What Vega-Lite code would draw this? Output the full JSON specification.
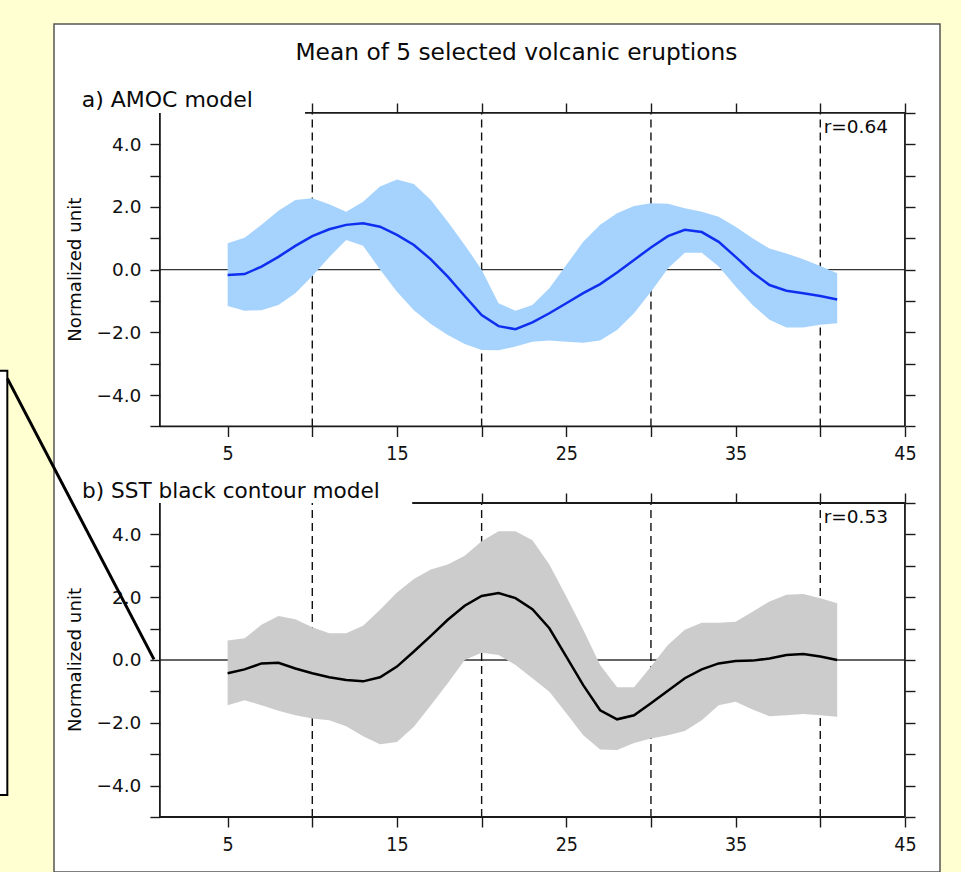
{
  "$schema": "https://vega.github.io/schema/vega-lite/v6.json",
  "width": 886,
  "height": 848,
  "autosize": "none",
  "padding": {"left": 54, "top": 24, "right": 21, "bottom": 0},
  "background": "#FFFFD2",
  "config": {
    "view": {"fill": "white", "stroke": "#555555", "strokeWidth": 1.5},
    "axis": {"domain": false, "grid": false, "tickColor": "#1a1a1a", "tickWidth": 1.4, "tickSize": 10, "labelColor": "#111111", "labelFont": "DejaVu Sans", "labelFlush": false, "labelOverlap": false, "labelBound": false},
    "text": {"font": "DejaVu Sans", "color": "#0a0a0a"}
  },
  "datasets": {
    "amoc": [
      {"t": 5, "mean": -0.17, "lo": -1.16, "hi": 0.84},
      {"t": 6, "mean": -0.14, "lo": -1.31, "hi": 1.02},
      {"t": 7, "mean": 0.10, "lo": -1.29, "hi": 1.43},
      {"t": 8, "mean": 0.41, "lo": -1.13, "hi": 1.88},
      {"t": 9, "mean": 0.76, "lo": -0.75, "hi": 2.22},
      {"t": 10, "mean": 1.07, "lo": -0.20, "hi": 2.28},
      {"t": 11, "mean": 1.29, "lo": 0.40, "hi": 2.09},
      {"t": 12, "mean": 1.43, "lo": 0.95, "hi": 1.85},
      {"t": 13, "mean": 1.48, "lo": 0.76, "hi": 2.17},
      {"t": 14, "mean": 1.37, "lo": 0.01, "hi": 2.65},
      {"t": 15, "mean": 1.11, "lo": -0.70, "hi": 2.88},
      {"t": 16, "mean": 0.79, "lo": -1.29, "hi": 2.73},
      {"t": 17, "mean": 0.33, "lo": -1.73, "hi": 2.22},
      {"t": 18, "mean": -0.22, "lo": -2.08, "hi": 1.53},
      {"t": 19, "mean": -0.84, "lo": -2.37, "hi": 0.79},
      {"t": 20, "mean": -1.45, "lo": -2.56, "hi": 0.00},
      {"t": 21, "mean": -1.80, "lo": -2.57, "hi": -1.07},
      {"t": 22, "mean": -1.90, "lo": -2.45, "hi": -1.31},
      {"t": 23, "mean": -1.68, "lo": -2.30, "hi": -1.13},
      {"t": 24, "mean": -1.39, "lo": -2.26, "hi": -0.59},
      {"t": 25, "mean": -1.07, "lo": -2.30, "hi": 0.15},
      {"t": 26, "mean": -0.75, "lo": -2.33, "hi": 0.89},
      {"t": 27, "mean": -0.46, "lo": -2.26, "hi": 1.43},
      {"t": 28, "mean": -0.09, "lo": -1.92, "hi": 1.80},
      {"t": 29, "mean": 0.31, "lo": -1.39, "hi": 2.03},
      {"t": 30, "mean": 0.71, "lo": -0.70, "hi": 2.12},
      {"t": 31, "mean": 1.07, "lo": 0.04, "hi": 2.10},
      {"t": 32, "mean": 1.27, "lo": 0.54, "hi": 1.96},
      {"t": 33, "mean": 1.20, "lo": 0.54, "hi": 1.85},
      {"t": 34, "mean": 0.89, "lo": 0.10, "hi": 1.69},
      {"t": 35, "mean": 0.41, "lo": -0.54, "hi": 1.37},
      {"t": 36, "mean": -0.09, "lo": -1.13, "hi": 1.00},
      {"t": 37, "mean": -0.49, "lo": -1.60, "hi": 0.68},
      {"t": 38, "mean": -0.67, "lo": -1.84, "hi": 0.52},
      {"t": 39, "mean": -0.75, "lo": -1.84, "hi": 0.33},
      {"t": 40, "mean": -0.84, "lo": -1.76, "hi": 0.12},
      {"t": 41, "mean": -0.95, "lo": -1.71, "hi": -0.11}
    ],
    "sst": [
      {"t": 5, "mean": -0.42, "lo": -1.44, "hi": 0.62},
      {"t": 6, "mean": -0.30, "lo": -1.28, "hi": 0.69},
      {"t": 7, "mean": -0.11, "lo": -1.44, "hi": 1.12},
      {"t": 8, "mean": -0.09, "lo": -1.62, "hi": 1.40},
      {"t": 9, "mean": -0.27, "lo": -1.76, "hi": 1.30},
      {"t": 10, "mean": -0.42, "lo": -1.86, "hi": 1.04},
      {"t": 11, "mean": -0.55, "lo": -1.92, "hi": 0.85},
      {"t": 12, "mean": -0.64, "lo": -2.11, "hi": 0.85},
      {"t": 13, "mean": -0.68, "lo": -2.43, "hi": 1.09},
      {"t": 14, "mean": -0.55, "lo": -2.68, "hi": 1.60},
      {"t": 15, "mean": -0.21, "lo": -2.61, "hi": 2.15},
      {"t": 16, "mean": 0.27, "lo": -2.13, "hi": 2.58},
      {"t": 17, "mean": 0.77, "lo": -1.44, "hi": 2.88},
      {"t": 18, "mean": 1.28, "lo": -0.74, "hi": 3.04},
      {"t": 19, "mean": 1.73, "lo": 0.00, "hi": 3.32},
      {"t": 20, "mean": 2.04, "lo": 0.23, "hi": 3.78},
      {"t": 21, "mean": 2.13, "lo": 0.16, "hi": 4.10},
      {"t": 22, "mean": 1.97, "lo": -0.16, "hi": 4.10},
      {"t": 23, "mean": 1.62, "lo": -0.58, "hi": 3.81},
      {"t": 24, "mean": 1.01, "lo": -1.01, "hi": 3.04},
      {"t": 25, "mean": 0.11, "lo": -1.70, "hi": 2.02},
      {"t": 26, "mean": -0.80, "lo": -2.40, "hi": 0.96},
      {"t": 27, "mean": -1.60, "lo": -2.85, "hi": -0.16},
      {"t": 28, "mean": -1.89, "lo": -2.87, "hi": -0.87},
      {"t": 29, "mean": -1.76, "lo": -2.64, "hi": -0.87},
      {"t": 30, "mean": -1.38, "lo": -2.50, "hi": -0.21},
      {"t": 31, "mean": -0.98, "lo": -2.40, "hi": 0.48},
      {"t": 32, "mean": -0.58, "lo": -2.26, "hi": 0.96},
      {"t": 33, "mean": -0.30, "lo": -1.92, "hi": 1.19},
      {"t": 34, "mean": -0.11, "lo": -1.44, "hi": 1.19},
      {"t": 35, "mean": -0.03, "lo": -1.33, "hi": 1.22},
      {"t": 36, "mean": -0.02, "lo": -1.58, "hi": 1.54},
      {"t": 37, "mean": 0.05, "lo": -1.79, "hi": 1.86},
      {"t": 38, "mean": 0.16, "lo": -1.76, "hi": 2.08},
      {"t": 39, "mean": 0.19, "lo": -1.72, "hi": 2.10},
      {"t": 40, "mean": 0.11, "lo": -1.76, "hi": 1.97},
      {"t": 41, "mean": 0.00, "lo": -1.81, "hi": 1.81}
    ],
    "vlines": [{"t": 10}, {"t": 20}, {"t": 30}, {"t": 40}],
    "one": [{}]
  },
  "layer": [
    {
      "layer": [
        {"data": {"name": "one"}, "mark": {"type": "rule", "color": "#333333", "strokeWidth": 1.3},
         "encoding": {"x": {"datum": 1, "type": "quantitative", "scale": {"domain": [-5.254, 47.07], "nice": false, "zero": false}, "axis": null}, "x2": {"datum": 45},
                      "y": {"datum": 0, "type": "quantitative", "scale": {"domain": [-19.212, 7.837], "nice": false, "zero": false}, "axis": null}}},
        {"data": {"name": "vlines"}, "mark": {"type": "rule", "color": "#111111", "strokeWidth": 1.4, "strokeDash": [8, 5]},
         "encoding": {"x": {"field": "t", "type": "quantitative", "scale": {"domain": [-5.254, 47.07], "nice": false, "zero": false}, "axis": null},
                      "y": {"datum": -5, "type": "quantitative", "scale": {"domain": [-19.212, 7.837], "nice": false, "zero": false}, "axis": null}, "y2": {"datum": 5}}},
        {"data": {"name": "amoc"}, "mark": {"type": "area", "color": "#A6D3FD", "opacity": 1, "fillOpacity": 1},
         "encoding": {"x": {"field": "t", "type": "quantitative", "scale": {"domain": [-5.254, 47.07], "nice": false, "zero": false},
                            "axis": {"orient": "bottom", "offset": -445.5, "values": [5, 10, 15, 20, 25, 30, 35, 40, 45], "labelExpr": "datum.value % 10 === 5 ? datum.label : ''", "labelFont": "'Liberation Sans Narrow', 'DejaVu Sans Condensed', sans-serif", "labelFontSize": 19.5, "labelPadding": 8, "title": null}},
                      "y": {"field": "lo", "type": "quantitative", "scale": {"domain": [-19.212, 7.837], "nice": false, "zero": false},
                            "axis": {"orient": "left", "offset": -105.9, "values": [-5, -4, -3, -2, -1, 0, 1, 2, 3, 4], "labelExpr": "datum.value % 2 === 0 ? format(datum.value, '.1f') : ''", "labelFontSize": 18.5, "labelPadding": 9, "title": null}},
                      "y2": {"field": "hi"}}},
        {"data": {"name": "amoc"}, "mark": {"type": "line", "color": "#0F2FF0", "strokeWidth": 2.5},
         "encoding": {"x": {"field": "t", "type": "quantitative", "scale": {"domain": [-5.254, 47.07], "nice": false, "zero": false},
                            "axis": {"orient": "top", "offset": -89, "values": [10, 15, 20, 25, 30, 35, 40, 45], "labels": false, "title": null}},
                      "y": {"field": "mean", "type": "quantitative", "scale": {"domain": [-19.212, 7.837], "nice": false, "zero": false},
                            "axis": {"orient": "right", "offset": -35, "values": [-5, -4, -3, -2, -1, 0, 1, 2, 3, 4, 5], "labels": false, "title": null}}}},
        {"data": {"name": "one"}, "mark": {"type": "rule", "color": "#1a1a1a", "strokeWidth": 1.8},
         "encoding": {"x": {"datum": 1, "type": "quantitative", "scale": {"domain": [-5.254, 47.07], "nice": false, "zero": false}, "axis": null},
                      "y": {"datum": -5, "type": "quantitative", "scale": {"domain": [-19.212, 7.837], "nice": false, "zero": false}, "axis": null}, "y2": {"datum": 5}}},
        {"data": {"name": "one"}, "mark": {"type": "rule", "color": "#1a1a1a", "strokeWidth": 1.8},
         "encoding": {"x": {"datum": 45, "type": "quantitative", "scale": {"domain": [-5.254, 47.07], "nice": false, "zero": false}, "axis": null},
                      "y": {"datum": -5, "type": "quantitative", "scale": {"domain": [-19.212, 7.837], "nice": false, "zero": false}, "axis": null}, "y2": {"datum": 5}}},
        {"data": {"name": "one"}, "mark": {"type": "rule", "color": "#1a1a1a", "strokeWidth": 1.8},
         "encoding": {"x": {"datum": 1, "type": "quantitative", "scale": {"domain": [-5.254, 47.07], "nice": false, "zero": false}, "axis": null}, "x2": {"datum": 45},
                      "y": {"datum": -5, "type": "quantitative", "scale": {"domain": [-19.212, 7.837], "nice": false, "zero": false}, "axis": null}}},
        {"data": {"name": "one"}, "mark": {"type": "rule", "color": "#1a1a1a", "strokeWidth": 1.8},
         "encoding": {"x": {"datum": 9.57, "type": "quantitative", "scale": {"domain": [-5.254, 47.07], "nice": false, "zero": false}, "axis": null}, "x2": {"datum": 45},
                      "y": {"datum": 5, "type": "quantitative", "scale": {"domain": [-19.212, 7.837], "nice": false, "zero": false}, "axis": null}}},
        {"data": {"name": "one"}, "mark": {"type": "text", "text": "Mean of 5 selected volcanic eruptions", "fontSize": 23.3, "align": "center", "baseline": "alphabetic"},
         "encoding": {"x": {"datum": 22.06, "type": "quantitative", "scale": {"domain": [-5.254, 47.07], "nice": false, "zero": false}, "axis": null},
                      "y": {"datum": 6.69, "type": "quantitative", "scale": {"domain": [-19.212, 7.837], "nice": false, "zero": false}, "axis": null}}},
        {"data": {"name": "one"}, "mark": {"type": "text", "text": "a) AMOC model", "fontSize": 22, "align": "left", "baseline": "alphabetic"},
         "encoding": {"x": {"datum": -3.62, "type": "quantitative", "scale": {"domain": [-5.254, 47.07], "nice": false, "zero": false}, "axis": null},
                      "y": {"datum": 5.18, "type": "quantitative", "scale": {"domain": [-19.212, 7.837], "nice": false, "zero": false}, "axis": null}}},
        {"data": {"name": "one"}, "mark": {"type": "text", "text": "r=0.64", "fontSize": 18.5, "align": "left", "baseline": "middle"},
         "encoding": {"x": {"datum": 40.2, "type": "quantitative", "scale": {"domain": [-5.254, 47.07], "nice": false, "zero": false}, "axis": null},
                      "y": {"datum": 4.54, "type": "quantitative", "scale": {"domain": [-19.212, 7.837], "nice": false, "zero": false}, "axis": null}}},
        {"data": {"name": "one"}, "mark": {"type": "text", "text": "Normalized unit", "fontSize": 18.2, "align": "center", "baseline": "middle", "angle": 270},
         "encoding": {"x": {"datum": -3.95, "type": "quantitative", "scale": {"domain": [-5.254, 47.07], "nice": false, "zero": false}, "axis": null},
                      "y": {"datum": 0, "type": "quantitative", "scale": {"domain": [-19.212, 7.837], "nice": false, "zero": false}, "axis": null}}}
      ],
      "resolve": {"axis": {"x": "independent", "y": "independent"}}
    },
    {
      "layer": [
        {"data": {"name": "one"}, "mark": {"type": "rule", "color": "#333333", "strokeWidth": 1.3},
         "encoding": {"x": {"datum": 1, "type": "quantitative", "scale": {"domain": [-5.254, 47.07], "nice": false, "zero": false}, "axis": null}, "x2": {"datum": 45},
                      "y": {"datum": 0, "type": "quantitative", "scale": {"domain": [-6.752, 20.255], "nice": false, "zero": false}, "axis": null}}},
        {"data": {"name": "vlines"}, "mark": {"type": "rule", "color": "#111111", "strokeWidth": 1.4, "strokeDash": [8, 5]},
         "encoding": {"x": {"field": "t", "type": "quantitative", "scale": {"domain": [-5.254, 47.07], "nice": false, "zero": false}, "axis": null},
                      "y": {"datum": -5, "type": "quantitative", "scale": {"domain": [-6.752, 20.255], "nice": false, "zero": false}, "axis": null}, "y2": {"datum": 5}}},
        {"data": {"name": "sst"}, "mark": {"type": "area", "color": "#CCCCCC", "opacity": 1, "fillOpacity": 1},
         "encoding": {"x": {"field": "t", "type": "quantitative", "scale": {"domain": [-5.254, 47.07], "nice": false, "zero": false},
                            "axis": {"orient": "bottom", "offset": -55, "values": [5, 10, 15, 20, 25, 30, 35, 40, 45], "labelExpr": "datum.value % 10 === 5 ? datum.label : ''", "labelFont": "'Liberation Sans Narrow', 'DejaVu Sans Condensed', sans-serif", "labelFontSize": 19.5, "labelPadding": 8, "title": null}},
                      "y": {"field": "lo", "type": "quantitative", "scale": {"domain": [-6.752, 20.255], "nice": false, "zero": false},
                            "axis": {"orient": "left", "offset": -105.9, "values": [-5, -4, -3, -2, -1, 0, 1, 2, 3, 4], "labelExpr": "datum.value % 2 === 0 ? format(datum.value, '.1f') : ''", "labelFontSize": 18.5, "labelPadding": 9, "title": null}},
                      "y2": {"field": "hi"}}},
        {"data": {"name": "sst"}, "mark": {"type": "line", "color": "#000000", "strokeWidth": 2.5},
         "encoding": {"x": {"field": "t", "type": "quantitative", "scale": {"domain": [-5.254, 47.07], "nice": false, "zero": false},
                            "axis": {"orient": "top", "offset": -479, "values": [20, 25, 30, 35, 40, 45], "labels": false, "title": null}},
                      "y": {"field": "mean", "type": "quantitative", "scale": {"domain": [-6.752, 20.255], "nice": false, "zero": false},
                            "axis": {"orient": "right", "offset": -35, "values": [-5, -4, -3, -2, -1, 0, 1, 2, 3, 4, 5], "labels": false, "title": null}}}},
        {"data": {"name": "one"}, "mark": {"type": "rule", "color": "#1a1a1a", "strokeWidth": 1.8},
         "encoding": {"x": {"datum": 1, "type": "quantitative", "scale": {"domain": [-5.254, 47.07], "nice": false, "zero": false}, "axis": null},
                      "y": {"datum": -5, "type": "quantitative", "scale": {"domain": [-6.752, 20.255], "nice": false, "zero": false}, "axis": null}, "y2": {"datum": 5}}},
        {"data": {"name": "one"}, "mark": {"type": "rule", "color": "#1a1a1a", "strokeWidth": 1.8},
         "encoding": {"x": {"datum": 45, "type": "quantitative", "scale": {"domain": [-5.254, 47.07], "nice": false, "zero": false}, "axis": null},
                      "y": {"datum": -5, "type": "quantitative", "scale": {"domain": [-6.752, 20.255], "nice": false, "zero": false}, "axis": null}, "y2": {"datum": 5}}},
        {"data": {"name": "one"}, "mark": {"type": "rule", "color": "#1a1a1a", "strokeWidth": 1.8},
         "encoding": {"x": {"datum": 1, "type": "quantitative", "scale": {"domain": [-5.254, 47.07], "nice": false, "zero": false}, "axis": null}, "x2": {"datum": 45},
                      "y": {"datum": -5, "type": "quantitative", "scale": {"domain": [-6.752, 20.255], "nice": false, "zero": false}, "axis": null}}},
        {"data": {"name": "one"}, "mark": {"type": "rule", "color": "#1a1a1a", "strokeWidth": 1.8},
         "encoding": {"x": {"datum": 15.9, "type": "quantitative", "scale": {"domain": [-5.254, 47.07], "nice": false, "zero": false}, "axis": null}, "x2": {"datum": 45},
                      "y": {"datum": 5, "type": "quantitative", "scale": {"domain": [-6.752, 20.255], "nice": false, "zero": false}, "axis": null}}},
        {"data": {"name": "one"}, "mark": {"type": "text", "text": "b) SST black contour model", "fontSize": 21.6, "align": "left", "baseline": "alphabetic"},
         "encoding": {"x": {"datum": -3.6, "type": "quantitative", "scale": {"domain": [-5.254, 47.07], "nice": false, "zero": false}, "axis": null},
                      "y": {"datum": 5.15, "type": "quantitative", "scale": {"domain": [-6.752, 20.255], "nice": false, "zero": false}, "axis": null}}},
        {"data": {"name": "one"}, "mark": {"type": "text", "text": "r=0.53", "fontSize": 18.5, "align": "left", "baseline": "middle"},
         "encoding": {"x": {"datum": 40.2, "type": "quantitative", "scale": {"domain": [-5.254, 47.07], "nice": false, "zero": false}, "axis": null},
                      "y": {"datum": 4.55, "type": "quantitative", "scale": {"domain": [-6.752, 20.255], "nice": false, "zero": false}, "axis": null}}},
        {"data": {"name": "one"}, "mark": {"type": "text", "text": "Normalized unit", "fontSize": 18.2, "align": "center", "baseline": "middle", "angle": 270},
         "encoding": {"x": {"datum": -3.95, "type": "quantitative", "scale": {"domain": [-5.254, 47.07], "nice": false, "zero": false}, "axis": null},
                      "y": {"datum": 0, "type": "quantitative", "scale": {"domain": [-6.752, 20.255], "nice": false, "zero": false}, "axis": null}}},
        {"data": {"name": "one"}, "mark": {"type": "rect", "fill": "white", "stroke": "#000000", "strokeWidth": 2},
         "encoding": {"x": {"datum": -9.5, "type": "quantitative", "scale": {"domain": [-5.254, 47.07], "nice": false, "zero": false}, "axis": null}, "x2": {"datum": -8.01},
                      "y": {"datum": 9.21, "type": "quantitative", "scale": {"domain": [-6.752, 20.255], "nice": false, "zero": false}, "axis": null}, "y2": {"datum": -4.3}}},
        {"data": {"name": "one"}, "mark": {"type": "rule", "color": "#000000", "strokeWidth": 3},
         "encoding": {"x": {"datum": -8.01, "type": "quantitative", "scale": {"domain": [-5.254, 47.07], "nice": false, "zero": false}, "axis": null}, "x2": {"datum": 0.65},
                      "y": {"datum": 8.97, "type": "quantitative", "scale": {"domain": [-6.752, 20.255], "nice": false, "zero": false}, "axis": null}, "y2": {"datum": 0.02}}}
      ],
      "resolve": {"axis": {"x": "independent", "y": "independent"}}
    }
  ],
  "resolve": {"scale": {"y": "independent"}, "axis": {"x": "independent", "y": "independent"}}
}
